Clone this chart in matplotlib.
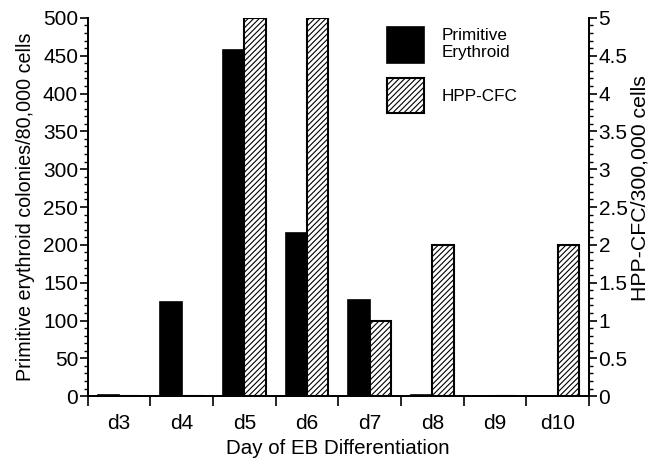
import matplotlib
matplotlib.use("Agg")
import matplotlib.pyplot as plt
import numpy as np
from matplotlib.ticker import MultipleLocator

plt.rcParams['font.family'] = ['Liberation Sans', 'DejaVu Sans']
plt.rcParams['hatch.linewidth'] = 0.8

# data
days = ["d3", "d4", "d5", "d6", "d7", "d8", "d9", "d10"]
primitive_erythroid = [2, 125, 458, 215, 127, 1, 0, 0]
hpp_cfc = [0, 0, 5, 5, 1, 2, 0, 2]

fig = plt.figure(figsize=(6.55, 4.58), dpi=100)
ax = fig.add_axes([0.134, 0.135, 0.765, 0.826])
ax2 = ax.twinx()

x = np.arange(len(days))
w = 0.34
ax.bar(x - w / 2, primitive_erythroid, w, color="black", edgecolor="black",
       linewidth=1.2, label="Primitive\nErythroid")
ax2.bar(x + w / 2, hpp_cfc, w, color="white", edgecolor="black", hatch="//////",
        linewidth=1.5, label="HPP-CFC")

ax.set_xlim(-0.5, len(days) - 0.5)
ax.set_ylim(0, 500)
ax2.set_ylim(0, 5)

ax.yaxis.set_major_locator(MultipleLocator(50))
ax.yaxis.set_minor_locator(MultipleLocator(10))
ax2.set_yticks(np.arange(0, 5.01, 0.5))
ax2.set_yticklabels(["0", "0.5", "1", "1.5", "2", "2.5", "3", "3.5", "4", "4.5", "5"])
ax2.yaxis.set_minor_locator(MultipleLocator(0.1))

ax.set_xticks(x)
ax.set_xticklabels(days)
ax.set_xticks(np.arange(-0.5, len(days), 1), minor=True)
ax.tick_params(axis="x", which="major", length=0, labelsize=15, pad=13)
ax.tick_params(axis="x", which="minor", length=7, width=1.2, direction="out")
ax.tick_params(axis="y", which="major", length=6, width=1.2, labelsize=15, pad=1)
ax.tick_params(axis="y", which="minor", length=3, width=1)
ax2.tick_params(axis="y", which="major", length=6, width=1.2, labelsize=15, pad=1)
ax2.tick_params(axis="y", which="minor", length=3, width=1)

for a in (ax, ax2):
    a.spines["top"].set_visible(False)
    for s in ("left", "right", "bottom"):
        a.spines[s].set_linewidth(1.3)

ax.set_ylabel("Primitive erythroid colonies/80,000 cells", fontsize=14.2, labelpad=6)
ax2.set_ylabel("HPP-CFC/300,000 cells", fontsize=15.3)
ax2.yaxis.set_label_coords(1.084, 0.55)
ax.set_xlabel("Day of EB Differentiation", fontsize=14.8, labelpad=4)

h1, l1 = ax.get_legend_handles_labels()
h2, l2 = ax2.get_legend_handles_labels()
ax2.legend(h1 + h2, l1 + l2, loc="upper left", bbox_to_anchor=(0.597, 0.975),
           frameon=False, fontsize=12.3, handlelength=2.2, handleheight=2.8,
           labelspacing=0.9, handletextpad=1.0, borderpad=0, borderaxespad=0)

fig.savefig("out.png", dpi=100)
